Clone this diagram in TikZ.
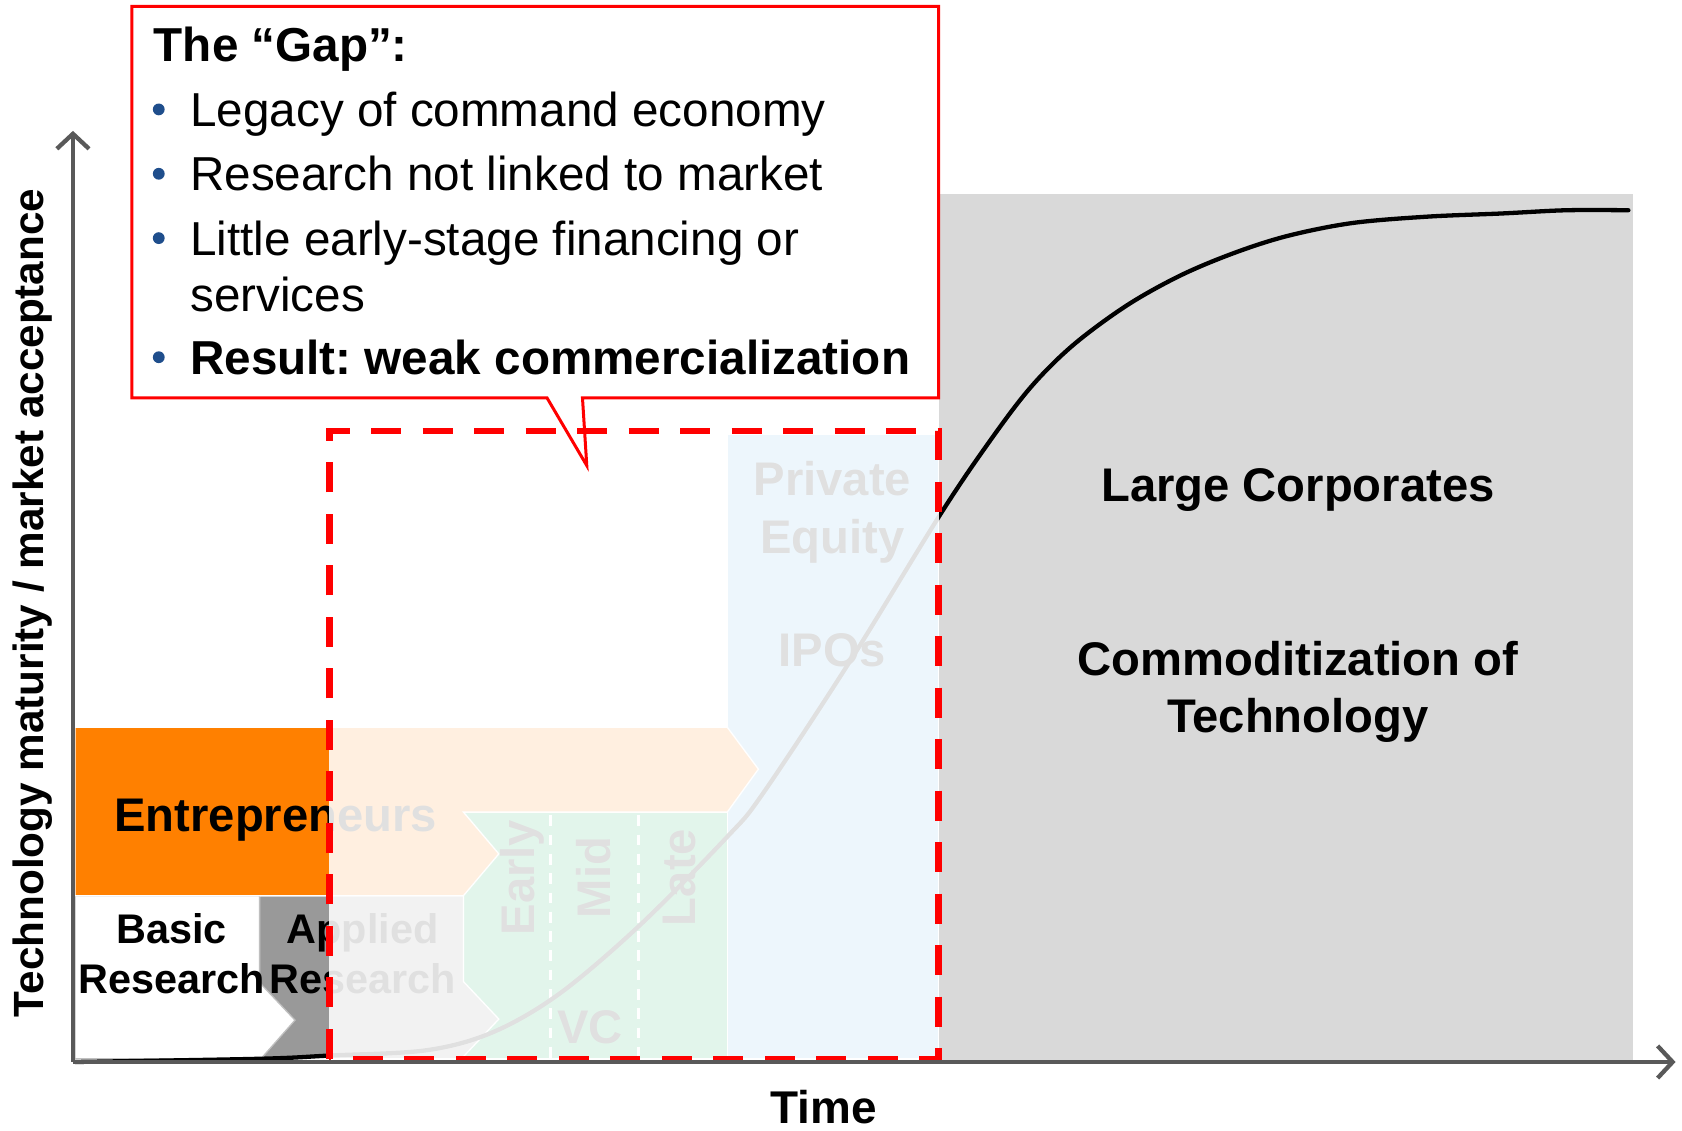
\documentclass[tikz,border=0pt]{standalone}
\usepackage{fontspec}
\setmainfont{Liberation Sans}
\frenchspacing
\usepackage{tikz}
\usetikzlibrary{positioning,arrows.meta}
\definecolor{entorange}{HTML}{FF8000}
\definecolor{appgray}{HTML}{999999}
\definecolor{corpgray}{HTML}{D9D9D9}
\definecolor{axisgray}{HTML}{595959}
\definecolor{vcgreen}{HTML}{16B461}
\definecolor{peblue}{HTML}{71BCEE}
\definecolor{bulletblue}{HTML}{1F4E8C}

\begin{document}
\begin{tikzpicture}
            [x=0.5pt, y=-0.5pt,
            % every node/.style={draw=black, thick},
            lbl/.style={font=\fontsize{22}{27}\selectfont\bfseries, align=center, inner sep=0pt},
            smalllbl/.style={font=\fontsize{19.3}{23}\selectfont\bfseries, align=center, inner sep=0pt},
            gapline/.style={font=\fontsize{22.2}{30}\selectfont, anchor=base west, inner sep=0pt},
            gapbullet/.style={circle, fill=bulletblue, inner sep=0pt, minimum size=5.5pt},
            stage/.style={draw=white, line width=0.6pt},
            axis/.style={draw=axisgray, line width=2pt, -{Straight Barb[length=7pt, width=15pt, line width=2pt]}}]
            \useasboundingbox (0,0) rectangle (1568,1054);
            % large corporates
            \fill [corpgray] (875,181) rectangle (1522,988);
            \node [lbl] (corp) at (1210,457) {Large Corporates};
            \node [lbl] (commod) at (1210,645) {Commoditization of\\Technology};
            % financing stages
            \path [stage, fill=peblue] (678,405) rectangle (875,987);
            \path [stage, fill=vcgreen] (432,757) rectangle (678,987);
            \draw [white, line width=1.5pt, dash pattern=on 5pt off 4pt] (513,760) -- (513,987);
            \draw [white, line width=1.5pt, dash pattern=on 5pt off 4pt] (595,760) -- (595,987);
            \path [stage, fill=appgray] (242,835) -- (432,835) -- (432,915) -- (465,950) -- (432,985)
                -- (432,987) -- (242,987) -- cycle;
            \path [draw=black!25, fill=white, line width=0.6pt] (70,835) -- (242,835) -- (242,916)
                -- (275,951) -- (245,985) -- (245,987) -- (70,987) -- cycle;
            \path [stage, fill=entorange] (70,678) -- (678,678) -- (707,717) -- (678,757) -- (432,757)
                -- (465,796) -- (432,835) -- (70,835) -- cycle;
            \node [lbl] (entre) at (257,765) {Entrepreneurs};
            \node [smalllbl] (basic) at (160,889) {Basic\\Research};
            \node [smalllbl] (applied) at (338,889) {Applied\\Research};
            \node [lbl, rotate=90] (early) at (487,818) {Early};
            \node [lbl, rotate=90] (mid) at (553,818) {Mid};
            \node [lbl, rotate=90] (late) at (633,818) {Late};
            \node [lbl] (vc) at (550,958) {VC};
            \node [lbl] (pe) at (776,478) {Private\\Equity};
            \node [lbl] (ipo) at (776,606) {IPOs};
            % maturity curve
            \draw [black, line width=2pt, line cap=round] plot [smooth, tension=0.55] coordinates {
                (70,990) (242,987) (307,984) (398,979) (460,962) (522,926) (597,862) (678,780)
                (711,740) (792,617) (875,482) (920,415) (960,362) (1000,322) (1050,285) (1100,257)
                (1150,236) (1200,220) (1260,208) (1330,202) (1400,199) (1460,196) (1518,196)};
            % the gap, faded
            \fill [white, opacity=0.88] (307,402) rectangle (875,987);
            % callout
            \draw [red, fill=white, line width=1.4pt] (123,6) -- (875,6) -- (875,371) -- (543,371)
                -- (547,434) -- (510,371) -- (123,371) -- cycle;
            \node [gapline, font=\fontsize{22.2}{30}\selectfont\bfseries] (gaptitle) at (143,57) {The “Gap”:};
            \node [gapline] (legacy) at (177,118) {Legacy of command economy};
            \node [gapline] (market) at (177,178) {Research not linked to market};
            \node [gapline] (finance) at (177,238) {Little early-stage financing or};
            \node [gapline] (services) at (177,290) {services};
            \node [gapline, font=\fontsize{22.2}{30}\selectfont\bfseries] (result) at (177,349) {Result: weak commercialization};
            \foreach \n/\y in {a/102, b/162, c/222, d/333}
                \node [gapbullet] (bul\n) at (148,\y) {};
            \draw [red, line width=3pt, dash pattern=on 14pt off 10pt] (307,987) -- (307,402) -- (875,402) -- (875,987) -- cycle;
            % axes
            \coordinate (origin) at (68,990);
            \coordinate (ytop) at (68,122);
            \coordinate (xend) at (1562,990);
            \draw [axis] (origin) -- (ytop);
            \draw [axis] (origin) -- (xend);
            \node [lbl, font=\fontsize{19.7}{24}\selectfont\bfseries, rotate=90] (ylabel) at (30,562) {Technology maturity / market acceptance};
            \node [lbl, font=\fontsize{21.4}{25}\selectfont\bfseries] (xlabel) at (768,1032) {Time};
\end{tikzpicture}
\end{document}
